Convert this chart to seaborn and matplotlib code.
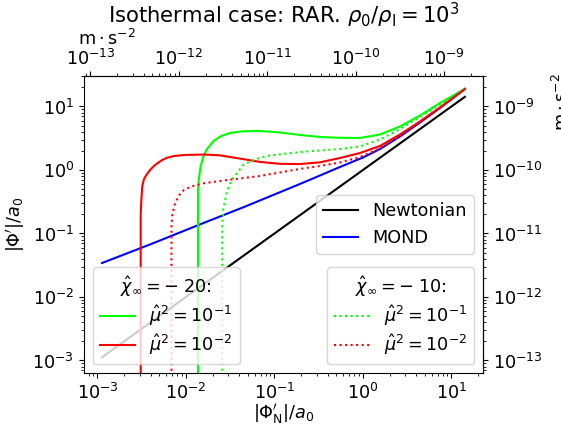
import matplotlib
matplotlib.use('Agg')
import matplotlib.pyplot as plt
import seaborn as sns

plt.rcParams['font.size'] = 12.7

# values (x = |Phi'_N|/a0, y = |Phi'|/a0)
newton_x = [1.12e-3, 14.2]
newton_y = [1.12e-3, 14.2]

mond_x = [1.125e-3, 3.92e-3, 0.0144, 0.0452, 0.194, 0.327, 0.550, 1.0, 1.556, 2.62, 4.41, 7.41, 14.2]
mond_y = [0.0343, 0.0671, 0.139, 0.261, 0.602, 0.819, 1.115, 1.573, 2.14, 3.37, 5.60, 9.46, 18.9]

# chi_inf = -20
g20_x = [0.01367, 0.01367, 0.01402, 0.01466, 0.01567, 0.01713, 0.0203, 0.0242, 0.0314, 0.0441,
         0.0686, 0.115, 0.194, 0.327, 0.550, 0.925, 1.556, 2.62, 4.41, 7.41, 14.2]
g20_y = [1e-5, 0.484, 0.748, 1.156, 1.60, 2.10, 2.82, 3.35, 3.83, 4.07,
         4.11, 3.90, 3.56, 3.31, 3.21, 3.19, 3.62, 4.84, 7.21, 11.35, 18.9]

r20_x = [3.08e-3, 3.08e-3, 3.13e-3, 3.21e-3, 3.35e-3, 3.51e-3, 3.72e-3, 3.99e-3, 4.35e-3, 4.74e-3,
         5.40e-3, 6.15e-3, 7.31e-3, 9.49e-3, 0.0160, 0.0242, 0.0408, 0.0686, 0.115, 0.194,
         0.327, 0.550, 0.925, 1.556, 2.62, 4.41, 7.41, 14.2]
r20_y = [1e-5, 0.195, 0.337, 0.560, 0.714, 0.805, 0.907, 1.026, 1.156, 1.275,
         1.437, 1.563, 1.66, 1.72, 1.75, 1.70, 1.51, 1.34, 1.25, 1.24,
         1.32, 1.545, 1.85, 2.39, 3.62, 5.81, 9.64, 18.9]

# chi_inf = -10
g10_x = [0.0257, 0.0257, 0.0258, 0.0264, 0.0288, 0.0314, 0.0342, 0.0444, 0.0576, 0.0816,
         0.1374, 0.231, 0.389, 0.550, 0.925, 1.556, 2.62, 4.41, 7.41, 14.2]
g10_y = [1e-5, 0.0790, 0.152, 0.243, 0.434, 0.602, 0.748, 1.199, 1.437, 1.66,
         1.82, 1.956, 2.066, 2.14, 2.35, 3.02, 4.42, 6.83, 10.75, 18.9]

r10_x = [6.86e-3, 6.86e-3, 7.03e-3, 7.51e-3, 8.23e-3, 9.49e-3, 0.0117, 0.0160, 0.0242, 0.0408,
         0.0686, 0.115, 0.194, 0.327, 0.550, 0.925, 1.556, 2.62, 4.41, 7.41, 14.2]
r10_y = [1e-5, 0.136, 0.203, 0.291, 0.390, 0.484, 0.554, 0.618, 0.671, 0.735,
         0.805, 0.913, 1.04, 1.156, 1.312, 1.60, 2.18, 3.43, 5.70, 9.57, 18.9]

mu_labels = [r'$\hat{\mu}^2=10^{-1}$', r'$\hat{\mu}^2=10^{-2}$']
unit = r'$\mathrm{m}\cdot\mathrm{s}^{-2}$'

fig = plt.figure(figsize=(5.61, 4.25), dpi=100)
ax = fig.add_axes([0.1497, 0.1224, 0.7112, 0.6988])
ax.set_xscale('log')
ax.set_yscale('log')


def draw(xs, ys, color, ls='-'):
    sns.lineplot(x=xs, y=ys, color=color, linestyle=ls, lw=1.5,
                 estimator=None, sort=False, ax=ax)
    return ax.lines[-1]


h_newt = draw(newton_x, newton_y, 'black')
h_mond = draw(mond_x, mond_y, 'blue')
h_g20 = draw(g20_x, g20_y, 'lime')
h_r20 = draw(r20_x, r20_y, 'red')
h_g10 = draw(g10_x, g10_y, 'lime', ':')
h_r10 = draw(r10_x, r10_y, 'red', ':')

ax.set_xlim(7.04e-4, 22.7)
ax.set_ylim(6.36e-4, 30.2)

leg1 = ax.legend([h_newt, h_mond], ['Newtonian', 'MOND'], loc='center right')
ax.add_artist(leg1)
leg2 = ax.legend([h_g20, h_r20], mu_labels, title=r'$\hat{\chi}_\infty=-\;20$:',
                 loc='lower left', labelspacing=0.25)
ax.add_artist(leg2)
ax.legend([h_g10, h_r10], mu_labels, title=r'$\hat{\chi}_\infty=-\;10$:',
          loc='lower right', labelspacing=0.25)

ax.set_xlabel(r"$|\Phi_\mathrm{N}'|/a_0$")
ax.xaxis.set_label_coords(0.5, -0.097)
ax.set_ylabel(r"$|\Phi'|/a_0$")
ax.yaxis.set_label_coords(-0.143, 0.5)

secx = ax.secondary_xaxis('top', functions=(lambda v: v * 1.2e-10, lambda v: v / 1.2e-10))
secx.tick_params(pad=1.5)
secx.set_xlabel(unit, loc='left')
secx.xaxis.set_label_coords(-0.015, 1.103, transform=ax.transAxes)
secy = ax.secondary_yaxis('right', functions=(lambda v: v * 1e-10, lambda v: v / 1e-10))
secy.set_ylabel(unit, loc='top')
secy.yaxis.set_label_coords(1.173, 1.01, transform=ax.transAxes)

ax.set_title(r'Isothermal case: RAR. $\rho_0/\rho_\mathrm{I}=10^3$', y=1.178, pad=0)

fig.savefig('out.png', dpi=100)
